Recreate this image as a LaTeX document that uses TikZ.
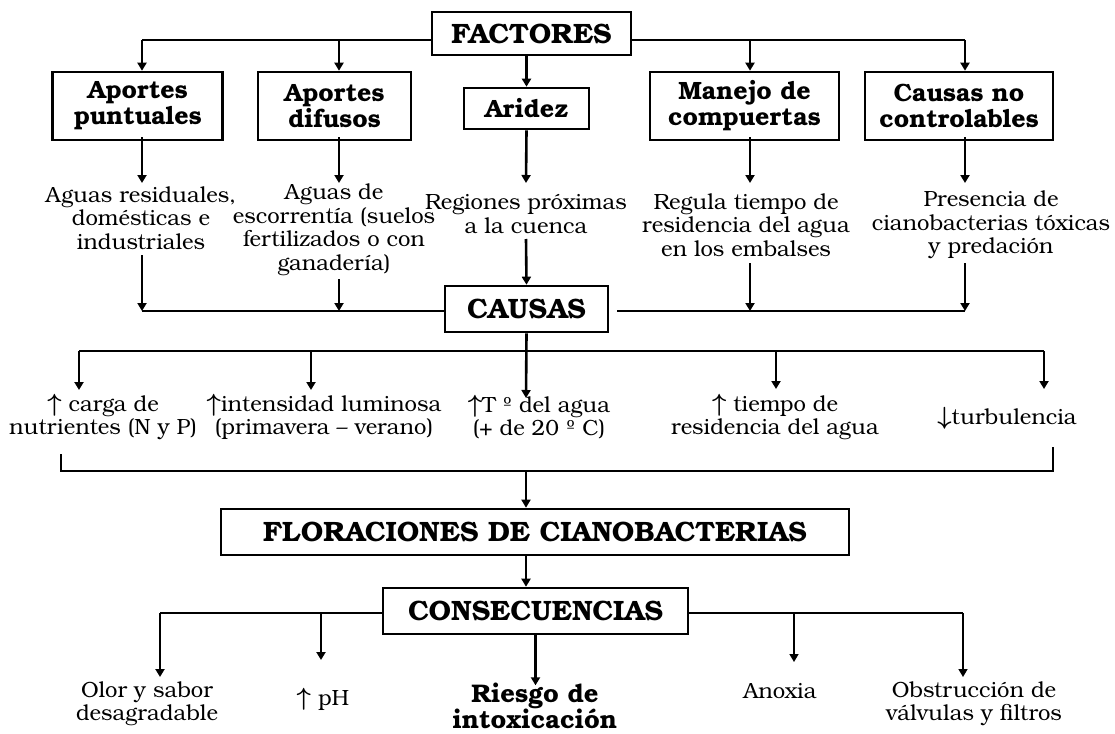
\documentclass[tikz,border=0pt]{standalone}
\usepackage{fontspec}
\setmainfont{TeX Gyre Bonum}
\usetikzlibrary{arrows.meta}
\newcommand\myup{{\fontsize{24}{24}\selectfont\boldmath$\uparrow$}}
\newcommand\mydown{{\fontsize{24}{24}\selectfont\boldmath$\downarrow$}}
\tikzset{
  bx/.style={draw, line width=2.6pt, inner sep=0pt, align=center, font=\fontsize{25}{26}\selectfont\bfseries},
  big/.style={bx, font=\fontsize{28}{28}\selectfont\bfseries},
  txt/.style={align=center, inner sep=0pt, font=\fontsize{22}{23.5}\selectfont},
  btxt/.style={align=center, inner sep=0pt, font=\fontsize{25.5}{26}\selectfont\bfseries},
  thk/.style={line width=2.6pt},
  thn/.style={line width=1.3pt},
  arr/.style={-{Triangle[length=8pt,width=9pt]}},
}
\begin{document}
\begin{tikzpicture}[x=1pt,y=-1pt]
\useasboundingbox (0,0) rectangle (1115,733);
% ---- boxes
\node[big, minimum width=199pt, minimum height=43pt] (fac) at (531.5,33.5) {FACTORES};
\node[bx, minimum width=170pt, minimum height=68pt] (ap) at (137.75,106) {Aportes\\puntuales};
\node[bx, minimum width=153pt, minimum height=68pt] (ad) at (334.5,106) {Aportes\\difusos};
\node[bx, minimum width=125pt, minimum height=41pt] (ar) at (526.5,108.5) {Aridez};
\node[bx, minimum width=189pt, minimum height=68pt] (mc) at (744.5,106) {Manejo de\\compuertas};
\node[bx, minimum width=188pt, minimum height=68pt] (cn) at (959,106) {Causas no\\controlables};
% ---- factor texts
\node[txt] (t1) at (141,218) {Aguas residuales,\\domésticas e\\industriales};
\node[txt] (t2) at (334,230) {Aguas de\\escorrentía (suelos\\fertilizados o con\\ganadería)};
\node[txt] (t3) at (526,214) {Regiones próximas\\a la cuenca};
\node[txt] (t4) at (746,225) {Regula tiempo de\\residencia del agua\\en los embalses};
\node[txt] (t5) at (991,225) {Presencia de\\cianobacterias tóxicas\\y predación};
% ---- causas
\node[big, minimum width=163pt, minimum height=46pt] (cau) at (526.5,309) {CAUSAS};
\node[txt] (c1) at (103,417) {\myup{} carga de\\nutrientes (N y P)};
\node[txt] (c2) at (324,417) {\myup intensidad luminosa\\(primavera -- verano)};
\node[txt] (c3) at (539,417) {\myup T º del agua\\(+ de 20 º C)};
\node[txt] (c4) at (775,417) {\myup{} tiempo de\\residencia del agua};
\node[txt] (c5) at (1007,418) {\mydown turbulencia};
% ---- floraciones / consecuencias
\node[big, minimum width=628pt, minimum height=46pt] (flo) at (535,532) {FLORACIONES DE CIANOBACTERIAS};
\node[big, minimum width=305pt, minimum height=46pt] (con) at (535.5,611) {CONSECUENCIAS};
\node[txt] (k1) at (147,704) {Olor y sabor\\desagradable};
\node[txt] (k2) at (323,699) {\myup{} pH};
\node[btxt] (k3) at (535,706) {Riesgo de\\intoxicación};
\node[txt] (k4) at (780,691) {Anoxia};
\node[txt] (k5) at (974,704) {Obstrucción de\\válvulas y filtros};
% ---- junction coordinates
\coordinate (jA) at (142,40);
\coordinate (jB) at (339,40);
\coordinate (jC) at (750,40);
\coordinate (jD) at (965,40);
\coordinate (eA) at (142,183);
\coordinate (eB) at (339,183);
\coordinate (eR) at (526,183);
\coordinate (eC) at (750,183);
\coordinate (eD) at (965,183);
\coordinate (gA) at (142,311);
\coordinate (gB) at (339,311);
\coordinate (gC) at (750,311);
\coordinate (gD) at (965,311);
\coordinate (hL) at (79,351);
\coordinate (hB) at (311,351);
\coordinate (hC) at (776,351);
\coordinate (hR) at (1044,351);
\coordinate (bL) at (61,454);
\coordinate (bM) at (526,471);
\coordinate (bR) at (1053,447);
\coordinate (qL) at (160,613);
\coordinate (qB) at (321,613);
\coordinate (qC) at (794,613);
\coordinate (qR) at (963,613);
% ---- factores connectors
\draw[thn] (fac.west |- jA) -- (jA);
\draw[thn] (fac.east |- jD) -- (jD);
\draw[thk,arr] (jA) -- (jA |- ap.north);
\draw[thk,arr] (jB) -- (jB |- ad.north);
\draw[thk,arr] (jC) -- (jC |- mc.north);
\draw[thk,arr] (jD) -- (jD |- cn.north);
\draw[thk,arr] (ar.north |- fac.south) -- (ar.north);
% box -> text
\draw[thk,arr] ([yshift=4pt]jA |- ap.south) -- (eA);
\draw[thk,arr] ([yshift=4pt]jB |- ad.south) -- (eB);
\draw[thk,arr] (ar.south) -- (eR);
\draw[thk,arr] ([yshift=4pt]jC |- mc.south) -- (eC);
\draw[thk,arr] ([yshift=4pt]jD |- cn.south) -- (eD);
% text -> causas
\draw[thk,arr] (142,255) -- (gA);
\draw[thk,arr] (339,279) -- (gB);
\draw[thk,arr] (526,239) -- (cau.north);
\draw[thk,arr] (750,263) -- (gC);
\draw[thk,arr] (965,263) -- (gD);
\draw[thn] (gA) -- (cau.west |- gA);
\draw[thn] ([xshift=8pt]cau.east |- gD) -- (gD);
% causas -> factors of bloom
\draw[thk] (hL) -- (hR);
\draw[thk,arr] (cau.south) -- (526,398);
\draw[thk,arr] (hL) -- ++(0,39);
\draw[thk,arr] (hB) -- ++(0,39);
\draw[thk,arr] (hC) -- ++(0,38);
\draw[thk,arr] (hR) -- ++(0,38);
% bracket
\draw[line width=1.2pt] (bL) |- (bM) -| (bR);
\draw[line width=1.8pt,arr] (bM) -- (flo.north -| bM);
\draw[thk,arr] (flo.south -| bM) -- (con.north -| bM);
% consecuencias
\draw[thn] (qL) -- (con.west |- qL);
\draw[thn] (con.east |- qR) -- (qR);
\draw[thk,arr] (qL) -- ++(0,64);
\draw[thk,arr] (qB) -- ++(0,47);
\draw[line width=1.5pt,arr] (qC) -- ++(0,49);
\draw[line width=1.5pt,arr] (qR) -- ++(0,64);
\draw[thk,arr] (con.south) -- ++(0,50);
\end{tikzpicture}
\end{document}
